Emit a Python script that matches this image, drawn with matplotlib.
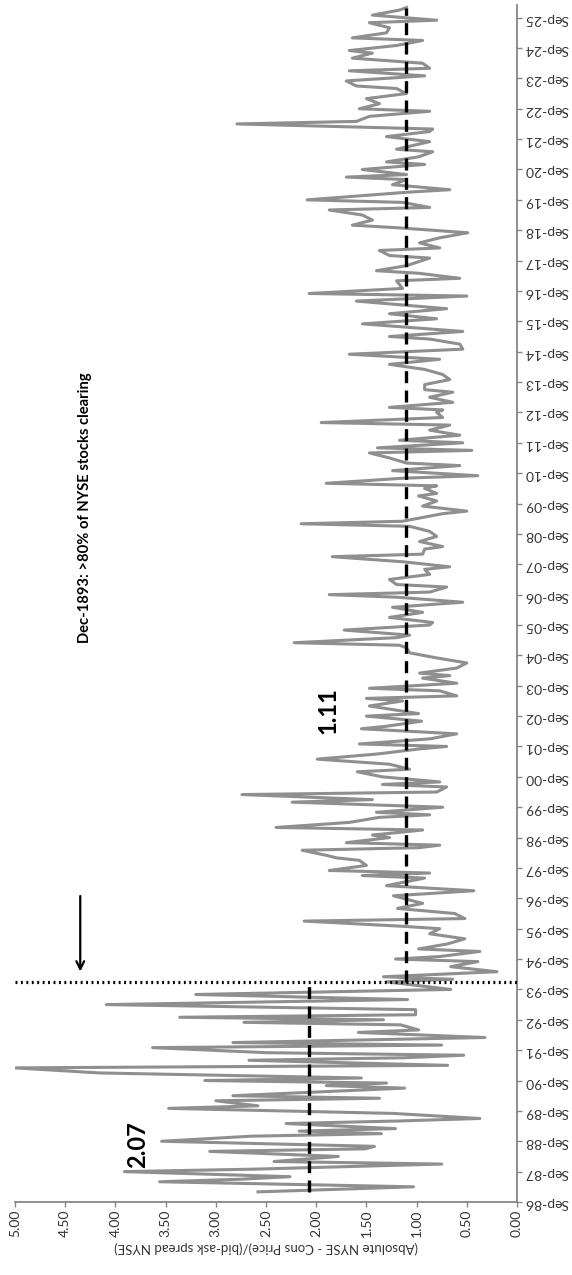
import matplotlib
matplotlib.use("Agg")
import matplotlib.pyplot as plt
import numpy as np

plt.rcParams['font.family'] = ['Lato', 'DejaVu Sans']

# months counted from Sep-1886 (0 = Sep-86)
pre_months = [4, 6, 8, 9, 10, 12, 13, 15, 16, 18, 20, 21, 22, 24, 26, 27, 28, 29,
              31, 32, 33, 35, 37, 38, 40, 41, 42, 45, 46, 47, 48, 49, 51, 53, 54,
              56, 57, 58, 59, 61, 62, 63, 65, 67, 68, 70, 71, 72, 73, 74, 76, 78,
              80, 82, 84]
pre_vals = [2.58, 1.03, 3.56, 2.75, 2.26, 3.91, 2.60, 0.75, 2.42, 1.78, 3.06, 1.51,
            1.42, 3.54, 2.65, 1.35, 2.17, 1.21, 2.30, 1.19, 0.37, 1.23, 3.47, 2.58,
            3.00, 1.37, 2.83, 1.12, 1.90, 1.30, 3.11, 1.55, 4.16, 5.00, 0.69, 2.67,
            1.12, 0.53, 2.49, 3.63, 0.75, 2.83, 0.32, 1.58, 0.98, 1.16, 2.72, 1.33,
            3.36, 1.01, 1.01, 4.09, 1.09, 3.20, 0.66]

post_months = [87, 88, 89, 91, 93, 95, 96, 97, 99, 100, 102, 104, 106, 108, 109, 111,
               112, 114, 116, 118, 121, 123, 125,
               128, 129, 130, 131, 133, 135, 136, 137, 139, 140, 141, 142, 144, 145,
               147, 148, 150, 152, 153, 154, 156, 158, 159, 161, 162, 164, 165, 166,
               168, 170, 171, 173, 175, 177, 179, 180, 181, 183, 185, 187, 188, 190,
               192, 193, 196, 198,
               199, 200, 202, 203, 205, 207, 208, 209, 211, 213, 215, 217, 219, 220,
               221, 223, 224, 226, 228, 229, 231, 233, 235, 237, 239, 240, 241, 243,
               244, 246, 248, 250, 251, 253, 255, 256, 258, 259, 261, 263, 265, 267,
               268, 269, 272, 273, 275, 277, 279, 280, 282, 283, 284, 286, 287, 289,
               291, 292, 294, 296, 297, 298, 300, 301, 303, 305, 307, 308, 310, 312,
               313, 314, 316, 318, 320, 321, 323, 325, 327, 329, 331, 333, 335,
               337, 339, 341, 342, 344, 347, 349, 351, 353, 355, 356, 358, 359, 361,
               364, 365, 367, 368, 370, 373, 374, 376, 377, 379, 381, 383, 385, 386,
               388, 390, 392, 393, 395, 396, 399, 400, 402, 404, 405,
               406, 408, 410, 411, 413, 415, 416, 418, 419, 421, 423, 424, 426, 427,
               429, 431, 432, 434, 436, 438, 440, 441, 443, 445, 447, 448, 450, 452,
               454, 455, 457, 459, 460, 462, 464, 466, 467, 469, 471, 472]
post_vals = [1.30, 0.64, 1.33, 0.20, 0.66, 0.39, 1.21, 0.77, 0.37, 0.98, 0.69, 0.52,
             0.87, 0.77, 1.16, 2.12, 0.52, 0.62, 1.19, 0.94, 1.23, 0.43, 1.30,
             0.92, 1.54, 0.87, 1.87, 1.50, 1.57, 1.80, 1.90, 2.14, 0.98, 0.77, 1.70,
             1.27, 1.44, 0.94, 2.40, 1.67, 1.37, 0.87, 1.40, 0.74, 2.24, 1.44, 2.74,
             0.80, 0.70, 1.34, 0.77, 1.34, 1.59, 1.07, 1.27, 1.99, 1.40, 0.98, 0.70,
             1.57, 0.87, 0.60, 1.55, 1.30, 0.95, 1.50, 0.98, 1.47, 1.14,
             1.50, 0.60, 0.77, 1.47, 0.60, 0.94, 0.67, 0.97, 0.60, 0.50, 0.80, 1.07,
             1.10, 1.17, 2.22, 1.20, 1.07, 1.72, 0.87, 0.84, 1.27, 0.94, 1.24, 0.54,
             1.20, 1.87, 0.87, 0.70, 1.20, 1.27, 0.87, 0.92, 0.67, 1.14, 1.84, 0.94,
             0.92, 0.74, 0.97, 0.80, 0.87, 1.07,
             2.15, 1.14, 0.74, 0.50, 0.94, 0.80, 0.98, 0.80, 0.92, 0.80, 1.90, 1.14,
             0.39, 1.24, 0.57, 1.10, 1.27, 1.47, 0.45, 1.39, 0.54, 1.17, 0.57, 0.87,
             0.67, 1.95, 0.74, 0.80, 0.74, 1.27, 0.64, 0.87, 0.64, 0.92, 0.92, 0.67,
             0.74, 0.92, 1.27, 0.77, 1.67,
             0.54, 0.57, 0.87, 1.27, 0.54, 1.54, 0.80, 1.27, 0.70, 1.30, 1.60, 0.50,
             2.07, 1.14, 1.20, 0.57, 0.98, 1.40, 1.10, 0.87, 1.27, 1.37, 0.77, 0.97,
             0.77, 0.49, 1.20, 1.64, 1.44, 1.54, 1.87, 0.87, 1.14, 2.09, 1.10, 0.67,
             1.24, 1.10, 1.70,
             1.10, 1.54, 0.92, 1.30, 0.98, 0.84, 1.20, 0.98, 0.87, 1.30, 0.87, 0.84,
             2.79, 1.60, 1.47, 0.87, 1.57, 1.37, 1.50, 1.10, 1.20, 1.60, 1.70, 0.92,
             1.67, 0.87, 0.94, 1.64, 1.44, 1.67, 1.20, 0.94, 1.64, 1.30, 1.27, 1.47,
             0.80, 1.44, 1.17, 1.10]

pre_mean = 2.07
post_mean = 1.11
break_month = 87  # Dec-1893

tick_months = list(range(0, 469, 12))
tick_labels = ["Sep-%02d" % (y % 100) for y in range(1886, 1926)]
value_ticks = [0, 0.5, 1, 1.5, 2, 2.5, 3, 3.5, 4, 4.5, 5]

fig = plt.figure(figsize=(5.72, 12.75), dpi=100)
ax = fig.add_axes([15/572, 73/1275, 502/572, 1197/1275])

months = pre_months + post_months
vals = pre_vals + post_vals
ax.plot(vals, months, color='#8f8f8f', lw=2.2, zorder=2)

# period means
ax.plot([pre_mean, pre_mean], [pre_months[0], break_month], color='black', lw=2.4,
        dashes=(3.6, 2.2), zorder=3)
ax.plot([post_mean, post_mean], [break_month, post_months[-1]], color='black', lw=2.4,
        dashes=(3.6, 2.2), zorder=3)

# break line
ax.axhline(break_month, color='black', lw=2.3, linestyle=(0, (0.6, 1.1)), zorder=4)

ax.text(3.78, 22.5, "2.07", rotation=90, ha='center', va='center',
        fontsize=17, fontweight='bold')
ax.text(1.88, 194, "1.11", rotation=90, ha='center', va='center',
        fontsize=17, fontweight='bold')

ax.annotate('', xy=(4.35, 90), xytext=(4.35, 122),
            arrowprops=dict(arrowstyle='->', lw=1.6, color='black',
                            mutation_scale=14))
ax.text(4.30, 221, "Dec-1893: >80% of NYSE stocks clearing", rotation=90,
        ha='center', va='bottom', fontsize=10.6, fontweight='bold')

ax.set_xlim(5, 0)
ax.set_ylim(0, 473)

for s in ['left', 'top']:
    ax.spines[s].set_visible(False)
for s in ['right', 'bottom']:
    ax.spines[s].set_color('#868686')
    ax.spines[s].set_linewidth(1.3)

ax.yaxis.tick_right()
ax.set_yticks(tick_months)
ax.set_yticklabels(tick_labels, rotation=180, fontsize=10)
ax.set_xticks(value_ticks)
ax.set_xticklabels(["%.2f" % v for v in value_ticks], rotation=90, fontsize=10)
ax.tick_params(axis='both', direction='out', length=3.5, width=1, color='#868686',
               labelcolor='#333333', pad=2)

ax.set_xlabel("(Absolute NYSE - Cons Price)/(bid-ask spread NYSE)", rotation=180,
              fontsize=9.5, color='#333333', labelpad=3)

fig.savefig("out.png", dpi=100)
